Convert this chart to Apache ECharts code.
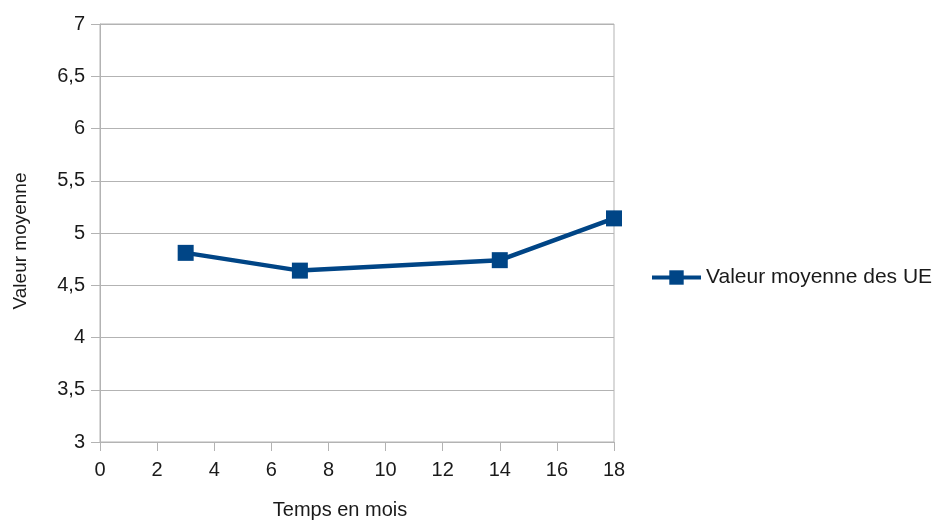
<!DOCTYPE html>
<html><head><meta charset="utf-8">
<script src="https://cdn.jsdelivr.net/npm/echarts@6/dist/echarts.min.js"></script>
<style>html,body{margin:0;padding:0;background:#fff}#c{width:936px;height:520px}</style>
</head><body><div id="c"></div>
<script>
const months = [3, 7, 14, 18];
const values = [4.81, 4.64, 4.74, 5.14];
const seriesName = 'Valeur moyenne des UE';
const xTitle = 'Temps en mois';
const yTitle = 'Valeur moyenne';

const chart = echarts.init(document.getElementById('c'), null, {renderer: 'canvas'});
const gray = '#b3b3b3';
const font = 'Liberation Sans';
chart.setOption({
  animation: false,
  textStyle: {fontFamily: font},
  grid: {left: 100, right: 322, top: 24, bottom: 78, show: true, borderColor: gray, borderWidth: 1,
    containLabel: false, outerBoundsMode: 'none'},
  legend: {
    left: 645, top: 262, orient: 'vertical',
    itemWidth: 49, itemHeight: 18, itemGap: 0,
    lineStyle: {width: 4},
    textStyle: {fontFamily: font, fontSize: 21, color: '#1a1a1a'},
    data: [seriesName]
  },
  xAxis: {
    type: 'value', min: 0, max: 18, interval: 2,
    name: xTitle, nameLocation: 'middle', nameGap: 58,
    nameTextStyle: {fontFamily: font, fontSize: 20, color: '#1a1a1a', padding: [0, 34, 0, 0]},
    axisLine: {show: true, lineStyle: {color: gray, width: 1}},
    axisTick: {show: true, length: 9, lineStyle: {color: gray}},
    axisLabel: {fontFamily: font, fontSize: 20, color: '#1a1a1a', margin: 18},
    splitLine: {show: false}
  },
  yAxis: {
    type: 'value', min: 3, max: 7, interval: 0.5,
    name: yTitle, nameLocation: 'middle', nameGap: 70, nameRotate: 90,
    nameTextStyle: {fontFamily: font, fontSize: 19, color: '#1a1a1a', padding: [0, 16, 0, 0]},
    axisLine: {show: true, lineStyle: {color: gray, width: 1}},
    axisTick: {show: true, length: 9, lineStyle: {color: gray}},
    axisLabel: {fontFamily: font, fontSize: 20, color: '#1a1a1a', margin: 15,
      formatter: v => String(v).replace('.', ',')},
    splitLine: {show: true, lineStyle: {color: gray, width: 1}}
  },
  series: [{
    name: seriesName, type: 'line',
    data: months.map((m, i) => [m, values[i]]),
    symbol: 'rect', symbolSize: 16,
    lineStyle: {color: '#004586', width: 4.5},
    itemStyle: {color: '#004586'}
  }]
});
</script></body></html>
